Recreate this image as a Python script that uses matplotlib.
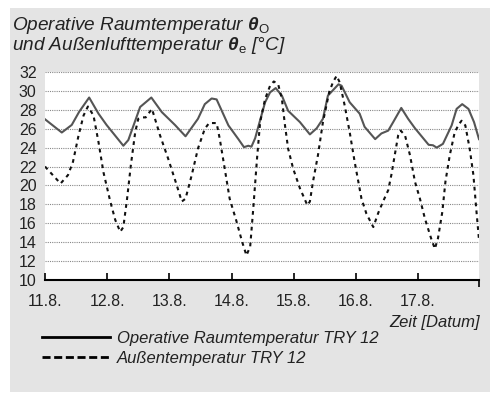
import matplotlib.pyplot as plt
from matplotlib.lines import Line2D
from matplotlib.patches import Rectangle

plt.rcParams['font.family'] = ['Liberation Sans', 'DejaVu Sans']
plt.rcParams['mathtext.fontset'] = 'custom'
plt.rcParams['mathtext.rm'] = 'Liberation Sans'
plt.rcParams['mathtext.it'] = 'Liberation Sans:italic'
plt.rcParams['mathtext.bf'] = 'Liberation Sans:bold:italic'

# Tage seit 11.8. 0:00
raum_t = [0.00, 0.27, 0.43, 0.55, 0.71, 0.86, 0.99, 1.26, 1.34, 1.53, 1.71, 1.88, 2.09,
          2.26, 2.46, 2.57, 2.68, 2.76, 2.95, 3.11, 3.20, 3.27, 3.32, 3.38, 3.43, 3.54,
          3.62, 3.71, 3.81, 3.91, 4.10, 4.26, 4.37, 4.47, 4.55, 4.72, 4.77, 4.90, 5.06,
          5.14, 5.31, 5.41, 5.52, 5.60, 5.73, 5.84, 5.95, 6.17, 6.24, 6.30, 6.40, 6.54,
          6.62, 6.71, 6.81, 6.90, 6.98]
raum_temp = [27.0, 25.6, 26.4, 27.8, 29.3, 27.6, 26.4, 24.2, 24.8, 28.3, 29.3, 27.75, 26.4,
             25.2, 27.05, 28.6, 29.2, 29.1, 26.35, 24.9, 24.05, 24.2, 24.1, 25.0, 26.2, 28.8,
             29.85, 30.3, 29.5, 27.9, 26.7, 25.4, 26.05, 27.05, 29.5, 30.7, 30.55, 28.8, 27.6,
             26.2, 24.9, 25.5, 25.8, 26.7, 28.2, 27.05, 26.05, 24.3, 24.25, 24.0, 24.4, 26.35,
             28.1, 28.6, 28.1, 26.7, 24.9]

aussen_t = [0.00, 0.25, 0.37, 0.45, 0.54, 0.62, 0.69, 0.78, 0.86, 0.94, 1.05, 1.13, 1.21,
            1.26, 1.32, 1.38, 1.45, 1.50, 1.55, 1.62, 1.72, 1.85, 1.98, 2.12, 2.20, 2.26,
            2.36, 2.46, 2.57, 2.64, 2.76, 2.81, 2.89, 2.97, 3.08, 3.17, 3.24, 3.30, 3.35,
            3.41, 3.46, 3.54, 3.62, 3.68, 3.75, 3.81, 3.86, 3.91, 3.99, 4.10, 4.22, 4.26,
            4.31, 4.39, 4.47, 4.57, 4.63, 4.69, 4.74, 4.82, 4.90, 4.98, 5.09, 5.17, 5.28,
            5.36, 5.44, 5.52, 5.57, 5.63, 5.68, 5.72, 5.79, 5.87, 5.95, 6.03, 6.11, 6.21,
            6.27, 6.32, 6.39, 6.44, 6.51, 6.59, 6.66, 6.70, 6.76, 6.83, 6.89, 6.94, 6.98]
aussen_temp = [22.0, 20.2, 21.1, 22.5, 25.3, 27.4, 28.35, 27.4, 24.6, 21.4, 18.3, 16.35, 15.1,
               15.6, 18.6, 22.1, 25.6, 27.05, 27.2, 27.2, 28.1, 25.3, 22.85, 20.0, 18.3, 18.6,
               21.1, 23.9, 26.0, 26.6, 26.6, 24.95, 21.8, 18.6, 16.2, 14.05, 12.6, 13.55, 17.6,
               22.85, 26.7, 29.15, 30.55, 31.0, 30.7, 29.15, 26.35, 23.9, 21.8, 19.7, 17.9, 18.3,
               20.4, 23.2, 26.7, 29.85, 30.9, 31.6, 30.9, 28.45, 25.65, 22.5, 18.6, 17.0, 15.6,
               17.1, 18.35, 19.5, 21.1, 23.4, 25.3, 25.8, 25.3, 23.2, 20.4, 18.6, 16.5, 14.4,
               13.3, 14.4, 17.2, 20.4, 23.2, 25.65, 26.5, 26.85, 26.35, 23.9, 21.1, 17.2, 14.25]

tage = [0, 1, 2, 3, 4, 5, 6]
tag_labels = ['11.8.', '12.8.', '13.8.', '14.8.', '15.8.', '16.8.', '17.8.']
y_ticks = list(range(10, 33, 2))

W, H = 490, 394
fig = plt.figure(figsize=(W / 100, H / 100), dpi=100)
fig.patches.append(Rectangle((10 / W, 2 / H), 480 / W, 384 / H,
                             transform=fig.transFigure, facecolor='#e4e4e4',
                             edgecolor='none', zorder=-5))

ax = fig.add_axes([45 / W, 1 - 280 / H, 434 / W, 208 / H])
ax.set_zorder(2)
ax.set_facecolor('white')
ax.set_xlim(0, 6.98)
ax.set_ylim(10, 32)

ax.plot(raum_t, raum_temp, color='#555555', lw=1.5, zorder=3)
ax.plot(aussen_t, aussen_temp, color='#111111', lw=1.5, dashes=(1.8, 2.0), zorder=3)

for s in ['top', 'right', 'left']:
    ax.spines[s].set_visible(False)
ax.spines['bottom'].set_linewidth(1.5)

ax.set_yticks(y_ticks)
ax.set_yticklabels([str(v) for v in y_ticks], fontsize=11.5, color='#222222')
ax.tick_params(axis='y', length=0, pad=6)
ax.set_xticks(tage)
ax.set_xticklabels(tag_labels, fontsize=11.5, color='#222222')
ax.tick_params(axis='x', direction='in', length=5, width=1.2, pad=10)
ax.set_xticks([0, 6.98], minor=True)
ax.tick_params(axis='x', which='minor', direction='out', length=5, width=1.2)
ax.yaxis.grid(True, color='#888888', lw=0.8, linestyle=(0, (1, 1)))
ax.set_axisbelow(True)

fig.text(12 / W, 1 - 26 / H, r'Operative Raumtemperatur $\mathbf{\theta}_\mathrm{O}$',
         fontsize=13.7, style='italic', va='center', color='#222222')
fig.text(12 / W, 1 - 46 / H, r'und Außenlufttemperatur $\mathbf{\theta}_\mathrm{e}$ [°C]',
         fontsize=13.7, style='italic', va='center', color='#222222')
fig.text(480 / W, 1 - 322 / H, 'Zeit [Datum]', fontsize=12, style='italic',
         ha='right', va='center', color='#222222')

handles = [Line2D([], [], color='black', lw=2),
           Line2D([], [], color='black', lw=2, dashes=(2.9, 1.3))]
leg = fig.legend(handles, ['Operative Raumtemperatur TRY 12', 'Außentemperatur TRY 12'],
                 loc='upper left', bbox_to_anchor=(42 / W, 1 - 331 / H), frameon=False,
                 borderpad=0, borderaxespad=0, handlelength=4.1, handletextpad=0.4,
                 labelspacing=0.3, prop={'size': 12, 'style': 'italic'})
for t in leg.get_texts():
    t.set_color('#222222')

fig.savefig('out.png', dpi=100, facecolor='white')
